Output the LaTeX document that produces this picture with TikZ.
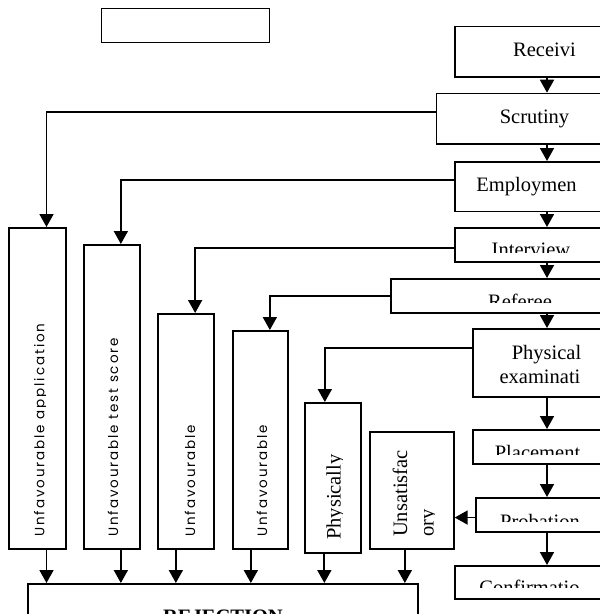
\documentclass[tikz,border=0pt]{standalone}
\usepackage{fontspec}
\setmainfont{Liberation Serif}
\newfontfamily\gothic[LetterSpace=14]{Poppins}
\usetikzlibrary{arrows.meta}
\begin{document}
\begin{tikzpicture}[x=1pt,y=-1pt,
  box/.style={draw, line width=1.7pt, inner sep=0pt, anchor=north west},
  arr/.style={-{Triangle[width=14pt,length=13pt]}, line width=1.8pt},
  lbl/.style={font=\fontsize{20.5}{23}\selectfont, inner sep=0pt, anchor=base},
  blbl/.style={font=\fontsize{20.5}{23}\selectfont\bfseries, inner sep=0pt, anchor=base},
  vsans/.style={font=\gothic\fontsize{13.5}{15}\selectfont, rotate=90, anchor=base west, inner sep=0pt},
  vserif/.style={font=\fontsize{20.5}{23}\selectfont, rotate=90, anchor=base west, inner sep=0pt}]
\clip (0,0) rectangle (600,614);
\fill[white] (0,0) rectangle (600,614);
\coordinate (spine) at (547,0);
% top empty box
\node[box, line width=1.4pt, minimum width=168pt, minimum height=34pt] (title) at (101,8) {};
% right column boxes
\node[box, minimum width=186pt, minimum height=50.3pt] (rec) at (454,25.7) {};
\node[box, minimum width=204pt, minimum height=50.3pt] (scr) at (435.7,92.7) {};
\node[box, minimum width=186pt, minimum height=49.7pt] (emp) at (454,161) {};
\node[box, minimum width=186pt, minimum height=34pt] (int) at (454,227) {};
\node[box, minimum width=250pt, minimum height=34pt] (ref) at (390,278) {};
\node[box, minimum width=168pt, minimum height=68pt] (phy) at (472,328) {};
\node[box, minimum width=168pt, minimum height=34pt] (pla) at (472,429) {};
\node[box, minimum width=165pt, minimum height=34pt] (pro) at (475,497) {};
\node[box, minimum width=186pt, minimum height=33pt] (con) at (454,565) {};
% left column boxes
\node[box, minimum width=56.7pt, minimum height=321pt] (u1) at (8.3,227) {};
\node[box, minimum width=56pt, minimum height=304pt] (u2) at (83,244) {};
\node[box, minimum width=56pt, minimum height=235pt] (u3) at (157,313) {};
\node[box, minimum width=55pt, minimum height=218pt] (u4) at (232,330) {};
\node[box, minimum width=56pt, minimum height=150pt] (u5) at (304,402) {};
\node[box, minimum width=84pt, minimum height=117pt] (u6) at (369,431) {};
\node[box, minimum width=390pt, minimum height=60pt] (rej) at (27,583) {};
% texts of the right column
\node[lbl] (trec) at (544.5,56) {Receivi};
\node[lbl] (tscr) at (534.5,123.3) {Scrutiny};
\node[lbl] (temp) at (526.5,191.7) {Employmen};
\begin{scope}
  \clip (454,227) rectangle (640,252);
  \node[lbl] (tint) at (531,256.5) {Interview};
\end{scope}
\begin{scope}
  \clip (390,278) rectangle (640,302);
  \node[lbl] (tref) at (520,308.5) {Referee};
\end{scope}
\node[lbl] (tphy1) at (546.5,359.5) {Physical};
\node[lbl] (tphy2) at (540,383.5) {examinati};
\begin{scope}
  \clip (472,429) rectangle (640,454);
  \node[lbl] (tpla) at (537.5,459.5) {Placement};
\end{scope}
\begin{scope}
  \clip (475,497) rectangle (640,521);
  \node[lbl] (tpro) at (540,528.5) {Probation};
\end{scope}
\begin{scope}
  \clip (454,565) rectangle (640,587);
  \node[lbl] (tcon) at (529.5,594.5) {Confirmatio};
\end{scope}
\node[blbl] (trej) at (223,623) {REJECTION};
% rotated texts of the left column
\begin{scope}
  \clip (0,0) rectangle (45.5,614);
  \node[vsans] (tu1) at (44.5,537) {Unfavourable application};
\end{scope}
\begin{scope}
  \clip (80,0) rectangle (119,614);
  \node[vsans] (tu2) at (118,537) {Unfavourable test score};
\end{scope}
\begin{scope}
  \clip (150,0) rectangle (196,614);
  \node[vsans] (tu3) at (195,537) {Unfavourable};
\end{scope}
\begin{scope}
  \clip (225,0) rectangle (268,614);
  \node[vsans] (tu4) at (267,537) {Unfavourable};
\end{scope}
\begin{scope}
  \clip (300,0) rectangle (342,614);
  \node[vserif] (tu5) at (340.5,540) {Physically};
\end{scope}
\node[vserif] (tu6a) at (407,537) {Unsatisfac};
\begin{scope}
  \clip (424,0) rectangle (434.5,614);
  \node[vserif] (tu6b) at (433.5,537) {ory};
\end{scope}
% spine arrows
\draw[arr] (rec.south -| spine) -- (scr.north -| spine);
\draw[arr] (scr.south -| spine) -- (emp.north -| spine);
\draw[arr] (emp.south -| spine) -- (int.north -| spine);
\draw[arr] (int.south -| spine) -- (ref.north -| spine);
\draw[arr] (ref.south -| spine) -- (phy.north -| spine);
\draw[arr] (phy.south -| spine) -- (pla.north -| spine);
\draw[arr] (pla.south -| spine) -- (pro.north -| spine);
\draw[arr] (pro.south -| spine) -- (con.north -| spine);
% rejection branches
\draw[arr] ([yshift=6.8pt]scr.west) -| ([xshift=9pt]u1.north);
\draw[arr] ([yshift=6.9pt]emp.west) -| ([xshift=9pt]u2.north);
\draw[arr] ([yshift=-3pt]int.west) -| ([xshift=9.3pt]u3.north);
\draw[arr] (ref.west) -| ([xshift=9.5pt]u4.north);
\draw[arr] ([yshift=15pt]phy.west) -| ([xshift=-8pt]u5.north);
\draw[arr] ([yshift=-2.7pt]pro.west) -- ([yshift=-2.7pt]pro.west -| u6.east);
% into rejection
\draw[arr] ([xshift=9pt]u1.south) -- ([xshift=9pt]u1.south |- rej.north);
\draw[arr] ([xshift=9pt]u2.south) -- ([xshift=9pt]u2.south |- rej.north);
\draw[arr] ([xshift=-10pt]u3.south) -- ([xshift=-10pt]u3.south |- rej.north);
\draw[arr] ([xshift=-9.5pt]u4.south) -- ([xshift=-9.5pt]u4.south |- rej.north);
\draw[arr] ([xshift=-8.5pt]u5.south) -- ([xshift=-8.5pt]u5.south |- rej.north);
\draw[arr] ([xshift=-7pt]u6.south) -- ([xshift=-7pt]u6.south |- rej.north);
\end{tikzpicture}
\end{document}
